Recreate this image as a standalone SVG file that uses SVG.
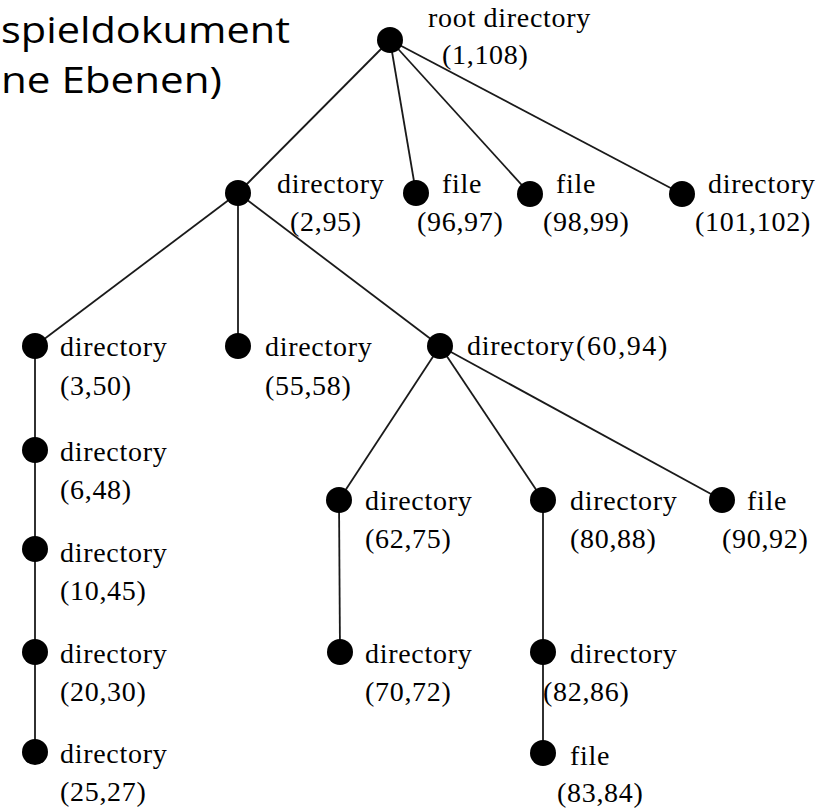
<svg xmlns="http://www.w3.org/2000/svg" width="830" height="810" viewBox="0 0 830 810">
  <style>
    .edge { stroke: #1a1a1a; stroke-width: 1.8; fill: none; }
    .node { fill: #000; }
    .lbl { font-family: "Liberation Serif", "Times New Roman", serif; font-size: 28px; fill: #000; letter-spacing: 0.7px; }
    .title { font-family: "Open Sans", "Noto Sans", sans-serif; font-size: 36px; fill: #000; }
  </style>
  <rect width="830" height="810" fill="#fff"/>

  <!-- heading, running off the left edge -->
  <g id="title">
    <text class="title" x="1" y="43" textLength="289" lengthAdjust="spacingAndGlyphs">spieldokument</text>
    <text class="title" x="1" y="93" textLength="221" lengthAdjust="spacingAndGlyphs">ne Ebenen)</text>
  </g>

  <!-- tree edges -->
  <g id="connectors">
    <line class="edge" x1="390" y1="40" x2="238" y2="193"/>
    <line class="edge" x1="390" y1="40" x2="416" y2="193"/>
    <line class="edge" x1="390" y1="40" x2="530" y2="194"/>
    <line class="edge" x1="390" y1="40" x2="682" y2="194"/>
    <line class="edge" x1="238" y1="193" x2="35" y2="346"/>
    <line class="edge" x1="238" y1="193" x2="238" y2="346"/>
    <line class="edge" x1="238" y1="193" x2="440" y2="346"/>
    <line class="edge" x1="35" y1="346" x2="35" y2="752"/>
    <line class="edge" x1="440" y1="346" x2="339" y2="500"/>
    <line class="edge" x1="440" y1="346" x2="543" y2="500"/>
    <line class="edge" x1="440" y1="346" x2="722" y2="500"/>
    <line class="edge" x1="339" y1="500" x2="340" y2="652"/>
    <line class="edge" x1="543" y1="500" x2="543" y2="753"/>
  </g>

  <g id="n-root">
    <circle class="node" cx="390" cy="40" r="13"/>
    <text class="lbl" x="428" y="27">root directory</text>
    <text class="lbl" x="442" y="64">(1,108)</text>
  </g>
  <g id="n-2-95">
    <circle class="node" cx="238" cy="193" r="13"/>
    <text class="lbl" x="277" y="193">directory</text>
    <text class="lbl" x="290" y="231">(2,95)</text>
  </g>
  <g id="n-96-97">
    <circle class="node" cx="416" cy="193" r="13"/>
    <text class="lbl" x="442" y="193">file</text>
    <text class="lbl" x="417" y="231">(96,97)</text>
  </g>
  <g id="n-98-99">
    <circle class="node" cx="530" cy="194" r="13"/>
    <text class="lbl" x="556" y="193">file</text>
    <text class="lbl" x="543" y="231">(98,99)</text>
  </g>
  <g id="n-101-102">
    <circle class="node" cx="682" cy="194" r="13"/>
    <text class="lbl" x="708" y="193">directory</text>
    <text class="lbl" x="695" y="231">(101,102)</text>
  </g>
  <g id="n-3-50">
    <circle class="node" cx="35" cy="346" r="13"/>
    <text class="lbl" x="60" y="356">directory</text>
    <text class="lbl" x="60" y="395">(3,50)</text>
  </g>
  <g id="n-55-58">
    <circle class="node" cx="238" cy="346" r="13"/>
    <text class="lbl" x="265" y="356">directory</text>
    <text class="lbl" x="265" y="395">(55,58)</text>
  </g>
  <g id="n-60-94">
    <circle class="node" cx="440" cy="346" r="13"/>
    <text class="lbl" x="467" y="355">directory</text>
    <text class="lbl" x="576" y="355" textLength="92">(60,94)</text>
  </g>
  <g id="n-6-48">
    <circle class="node" cx="35" cy="450" r="13"/>
    <text class="lbl" x="60" y="461">directory</text>
    <text class="lbl" x="60" y="499">(6,48)</text>
  </g>
  <g id="n-10-45">
    <circle class="node" cx="35" cy="549" r="13"/>
    <text class="lbl" x="60" y="562">directory</text>
    <text class="lbl" x="60" y="600">(10,45)</text>
  </g>
  <g id="n-20-30">
    <circle class="node" cx="35" cy="652" r="13"/>
    <text class="lbl" x="60" y="663">directory</text>
    <text class="lbl" x="60" y="701">(20,30)</text>
  </g>
  <g id="n-25-27">
    <circle class="node" cx="35" cy="752" r="13"/>
    <text class="lbl" x="60" y="763">directory</text>
    <text class="lbl" x="60" y="801">(25,27)</text>
  </g>
  <g id="n-62-75">
    <circle class="node" cx="339" cy="500" r="13"/>
    <text class="lbl" x="365" y="510">directory</text>
    <text class="lbl" x="365" y="548">(62,75)</text>
  </g>
  <g id="n-80-88">
    <circle class="node" cx="543" cy="500" r="13"/>
    <text class="lbl" x="570" y="510">directory</text>
    <text class="lbl" x="570" y="548">(80,88)</text>
  </g>
  <g id="n-90-92">
    <circle class="node" cx="722" cy="500" r="13"/>
    <text class="lbl" x="747" y="510">file</text>
    <text class="lbl" x="722" y="548">(90,92)</text>
  </g>
  <g id="n-70-72">
    <circle class="node" cx="340" cy="652" r="13"/>
    <text class="lbl" x="365" y="663">directory</text>
    <text class="lbl" x="365" y="701">(70,72)</text>
  </g>
  <g id="n-82-86">
    <circle class="node" cx="543" cy="652" r="13"/>
    <text class="lbl" x="570" y="663">directory</text>
    <text class="lbl" x="543" y="701">(82,86)</text>
  </g>
  <g id="n-83-84">
    <circle class="node" cx="543" cy="753" r="13"/>
    <text class="lbl" x="570" y="765">file</text>
    <text class="lbl" x="557" y="802">(83,84)</text>
  </g>
</svg>
